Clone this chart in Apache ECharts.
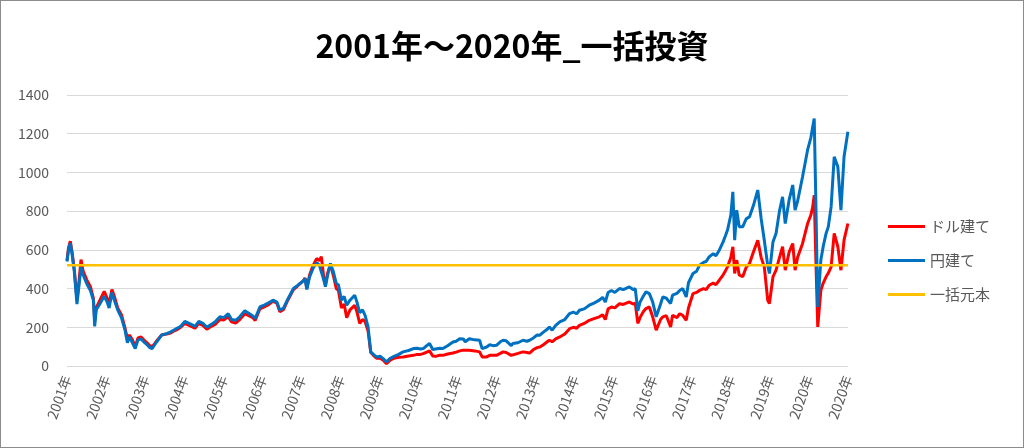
<!DOCTYPE html>
<html>
<head>
<meta charset="utf-8">
<script src="https://cdn.jsdelivr.net/npm/echarts@6/dist/echarts.min.js"></script>
<style>
  html, body { margin: 0; padding: 0; background: #fff; }
  #wrap { width: 1024px; height: 448px; box-sizing: border-box; border: 1px solid #8c8c8c; }
  #chart { width: 1022px; height: 446px; }
</style>
</head>
<body>
<div id="wrap"><div id="chart"></div></div>
<script>
const titleText = '2001年～2020年_一括投資';
const seriesNames = ['ドル建て', '円建て', '一括元本'];
const yearLabels = ['2001年','2002年','2003年','2004年','2005年','2006年','2007年','2008年','2009年','2010年',
  '2011年','2012年','2013年','2014年','2015年','2016年','2017年','2018年','2019年','2020年','2020年'];
const principal = 520;

const dates = [
  '2001-01-01','2001-01-15','2001-02-01','2001-02-17','2001-03-10','2001-04-04','2001-04-22','2001-05-12','2001-06-01','2001-07-05','2001-08-08','2001-09-05','2001-09-17','2001-10-01','2001-11-05','2001-12-15',
  '2002-01-12','2002-01-30','2002-02-25','2002-03-20','2002-04-20','2002-05-25','2002-06-28','2002-07-20','2002-08-08','2002-09-05','2002-10-01','2002-10-27','2002-11-25','2002-12-20',
  '2003-01-20','2003-02-15','2003-03-08','2003-04-01','2003-04-27','2003-06-05','2003-07-22','2003-08-25','2003-09-25','2003-10-27','2003-12-01',
  '2004-01-08','2004-01-26','2004-03-08','2004-04-12','2004-05-18','2004-06-25','2004-08-01','2004-09-12','2004-10-18','2004-12-01',
  '2005-01-08','2005-02-17','2005-03-20','2005-04-27','2005-06-05','2005-07-22','2005-08-28','2005-10-05','2005-10-27','2005-12-10',
  '2006-01-20','2006-02-25','2006-04-12','2006-05-18','2006-06-15','2006-07-20','2006-08-28','2006-10-20','2006-11-25','2006-12-20',
  '2007-01-20','2007-02-06','2007-02-22','2007-03-20','2007-04-22','2007-05-25','2007-06-20','2007-07-08','2007-08-02','2007-08-15','2007-09-05','2007-10-01','2007-10-27','2007-11-25','2007-12-15',
  '2008-01-12','2008-02-06','2008-03-01','2008-04-01','2008-05-15','2008-06-05','2008-07-01','2008-07-27','2008-08-20','2008-09-17','2008-10-12','2008-11-06','2008-12-05',
  '2009-01-08','2009-02-06','2009-03-08','2009-04-12','2009-05-18','2009-07-01','2009-08-10','2009-10-01','2009-11-15','2009-12-20',
  '2010-01-20','2010-02-15','2010-03-20','2010-04-15','2010-05-15','2010-06-12','2010-07-20','2010-08-18','2010-10-01','2010-11-20','2010-12-20',
  '2011-01-22','2011-02-25','2011-03-15','2011-04-22','2011-06-12','2011-07-27','2011-08-20','2011-10-01','2011-10-30','2011-12-01',
  '2012-01-01','2012-02-06','2012-03-03','2012-04-01','2012-05-18','2012-06-01','2012-07-20','2012-09-05','2012-10-12','2012-11-06','2012-12-12',
  '2013-01-15','2013-02-10','2013-03-15','2013-04-20','2013-05-10','2013-06-05','2013-07-08','2013-08-15','2013-10-01','2013-11-15','2013-12-20',
  '2014-01-20','2014-02-15','2014-04-01','2014-05-18','2014-07-01','2014-08-20','2014-09-20','2014-10-15','2014-11-10','2014-12-12',
  '2015-01-12','2015-02-25','2015-04-01','2015-05-28','2015-07-01','2015-07-22','2015-08-15','2015-09-05','2015-10-05','2015-10-30','2015-12-01',
  '2016-01-01','2016-02-03','2016-02-17','2016-03-15','2016-04-05','2016-05-08','2016-06-17','2016-07-05','2016-08-15','2016-09-10','2016-10-08','2016-11-10','2016-12-01',
  '2017-01-12','2017-02-15','2017-03-15','2017-04-20','2017-05-15','2017-06-12','2017-07-20','2017-08-15','2017-09-15','2017-10-20','2017-11-10','2017-12-01',
  '2018-01-01','2018-01-20','2018-02-06','2018-02-25','2018-03-20','2018-04-22','2018-05-25','2018-06-25','2018-08-01','2018-09-10','2018-10-12','2018-11-10','2018-12-12','2018-12-28',
  '2019-01-30','2019-02-28','2019-04-01','2019-04-30','2019-05-25','2019-07-01','2019-08-03','2019-08-25','2019-09-17','2019-11-03','2019-12-20',
  '2020-01-20','2020-02-06','2020-02-20','2020-03-06','2020-03-24','2020-04-22','2020-05-15','2020-06-10','2020-07-01','2020-07-27','2020-08-25','2020-09-28','2020-10-27','2020-11-25','2020-12-31'
];

const usdValues = [
  545,610,645,590,500,340,430,550,490,445,410,350,230,300,340,385,
  350,320,395,360,300,265,195,140,160,135,100,145,150,135,
  120,105,100,115,135,160,165,170,180,188,200,
  220,228,205,195,220,210,190,205,215,240,
  238,255,228,222,240,270,260,250,235,295,
  305,315,335,325,280,292,340,395,412,425,
  440,455,400,470,520,555,545,565,445,420,480,525,470,400,390,
  300,320,250,290,314,280,220,240,230,180,70,55,40,
  40,30,12,30,40,45,47,52,55,60,
  60,64,72,78,52,50,56,55,62,67,72,
  78,82,72,81,78,73,47,47,55,55,
  55,65,73,70,55,61,65,73,70,67,85,
  95,98,110,125,133,125,140,150,165,193,200,
  195,210,220,236,245,254,265,240,295,305,
  300,322,318,331,320,325,220,250,280,297,305,
  254,185,176,240,254,260,202,262,250,270,262,236,300,
  374,380,391,400,395,417,428,420,443,470,490,512,
  560,616,478,547,470,461,510,529,590,650,560,512,340,323,
  460,495,560,616,495,590,633,495,560,633,736,
  780,822,883,560,202,391,430,461,480,512,685,616,495,650,736
];

const jpyValues = [
  540,600,635,580,490,320,410,510,470,425,390,340,205,290,322,360,
  330,300,380,340,290,250,185,120,150,120,90,135,140,125,
  110,95,90,110,130,160,167,175,185,195,205,
  230,240,215,205,230,220,200,215,228,254,
  250,270,240,236,254,285,272,258,245,305,
  315,325,340,330,288,300,345,400,415,426,
  440,452,395,460,505,535,520,530,440,410,470,530,490,426,420,
  340,360,314,340,366,330,275,290,262,202,73,60,47,
  50,38,21,40,50,60,73,80,90,92,
  88,90,105,116,85,88,92,90,105,124,128,
  141,140,125,141,135,133,90,98,110,105,
  107,125,133,130,105,116,120,133,128,133,145,
  160,159,175,190,202,185,210,228,240,271,278,
  270,288,295,314,325,340,355,330,380,390,
  380,400,395,409,395,400,285,330,360,383,374,
  331,254,245,320,357,350,323,366,375,390,400,357,430,
  478,490,521,535,540,564,580,570,598,640,670,702,
  780,900,650,805,720,719,760,771,830,909,760,650,520,478,
  640,685,800,874,736,860,935,805,850,978,1116,
  1180,1236,1279,857,305,547,620,685,720,822,1081,1029,805,1081,1210
];

const base = Date.UTC(2001, 0, 1);
const yearMs = 365.25 * 86400000;
function toT(s) {
  const p = s.split('-').map(Number);
  return (Date.UTC(p[0], p[1] - 1, p[2]) - base) / yearMs;
}
const xs = dates.map(toT);
const usdData = xs.map((t, i) => [t, usdValues[i]]);
const jpyData = xs.map((t, i) => [t, jpyValues[i]]);
const principalData = [[0, principal], [20, principal]];

const chart = echarts.init(document.getElementById('chart'));
const font = "'Noto Sans CJK JP', 'Noto Sans', sans-serif";
chart.setOption({
  animation: false,
  backgroundColor: '#ffffff',
  title: {
    text: titleText,
    left: 'center',
    top: 24,
    textStyle: { fontFamily: font, fontSize: 32, fontWeight: 'bold', color: '#000' }
  },
  legend: {
    orient: 'vertical',
    left: 882,
    top: 213,
    itemWidth: 37,
    itemHeight: 3,
    itemGap: 19,
    icon: 'rect',
    textStyle: { fontFamily: font, fontSize: 15, color: '#595959' },
    data: seriesNames
  },
  grid: { left: 66, right: 175, top: 94, bottom: 81, containLabel: false },
  xAxis: {
    type: 'value',
    min: 0, max: 20, interval: 1,
    axisLine: { show: false },
    axisTick: { show: false },
    splitLine: { show: false },
    axisLabel: {
      rotate: 70,
      margin: 10,
      fontFamily: font, fontSize: 14, color: '#595959',
      formatter: v => yearLabels[Math.round(v)] || ''
    }
  },
  yAxis: {
    type: 'value',
    min: 0, max: 1400, interval: 200,
    axisLine: { show: false },
    axisTick: { show: false },
    splitLine: { lineStyle: { color: '#d9d9d9', width: 1 } },
    axisLabel: { margin: 18, fontFamily: font, fontSize: 14, color: '#595959', formatter: v => String(v) }
  },
  series: [
    { name: seriesNames[0], type: 'line', data: usdData, symbol: 'none', color: '#ff0000',
      lineStyle: { width: 3, color: '#ff0000' } },
    { name: seriesNames[1], type: 'line', data: jpyData, symbol: 'none', color: '#0070c0',
      lineStyle: { width: 3, color: '#0070c0' } },
    { name: seriesNames[2], type: 'line', data: principalData, symbol: 'none', color: '#ffc000',
      lineStyle: { width: 2.5, color: '#ffc000' } }
  ]
});
</script>
</body>
</html>
